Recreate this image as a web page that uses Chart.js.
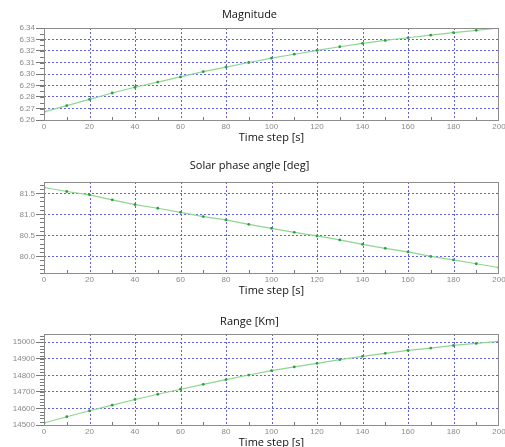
<!DOCTYPE html>
<html>
<head>
<meta charset="utf-8">
<script src="https://cdn.jsdelivr.net/npm/chart.js@4"></script>
<style>
  body { margin: 0; background: #fff; width: 505px; height: 447px; overflow: hidden; position: relative; }
  canvas { position: absolute; left: 0; }
</style>
</head>
<body>
<canvas id="magChart" width="505" height="146" style="top:0px"></canvas>
<canvas id="phaseChart" width="505" height="146" style="top:153px"></canvas>
<canvas id="rangeChart" width="505" height="146" style="top:305px"></canvas>
<script>
// time axis (s), markers every 10 s
const timeSteps = [0, 10, 20, 30, 40, 50, 60, 70, 80, 90, 100, 110, 120, 130, 140, 150, 160, 170, 180, 190, 200];
const xTicks = [0, 20, 40, 60, 80, 100, 120, 140, 160, 180, 200];

const magnitude = [6.267, 6.2725, 6.278, 6.2835, 6.2885, 6.293, 6.2975, 6.302, 6.306, 6.310, 6.3138,
  6.3172, 6.3205, 6.3237, 6.3267, 6.3292, 6.3315, 6.3338, 6.336, 6.338, 6.340];
const magTicks = [6.26, 6.27, 6.28, 6.29, 6.30, 6.31, 6.32, 6.33, 6.34];

const phaseAngle = [81.65, 81.555, 81.476, 81.357, 81.245, 81.157, 81.06, 80.96, 80.88, 80.776, 80.68,
  80.586, 80.5, 80.405, 80.3, 80.205, 80.12, 80.014, 79.93, 79.84, 79.75];
const phaseTicks = [80.0, 80.5, 81.0, 81.5];

const rangeKm = [14512, 14550, 14586, 14620, 14654, 14686, 14716, 14746, 14774, 14802, 14829,
  14851, 14873, 14895, 14915, 14933, 14951, 14965, 14981, 14993, 15005];
const rangeTicks = [14500, 14600, 14700, 14800, 14900, 15000];

const gridBlue = 'rgb(96, 96, 225)';

// vertical grid, frame box + minor ticks
const framePlugin = {
  id: 'frame',
  beforeDatasetsDraw(chart) {
    const { ctx, chartArea: a, scales: { x } } = chart;
    ctx.save();
    ctx.strokeStyle = gridBlue;
    ctx.lineWidth = 1;
    ctx.setLineDash([2, 2]);
    ctx.beginPath();
    xTicks.slice(1, -1).forEach(v => {
      const px = Math.round(x.getPixelForValue(v)) + 0.5;
      ctx.moveTo(px, a.top);
      ctx.lineTo(px, a.bottom);
    });
    ctx.stroke();
    ctx.restore();
  },
  afterDatasetsDraw(chart, args, opts) {
    const { ctx, chartArea: a, scales: { x, y } } = chart;
    ctx.save();
    ctx.strokeStyle = '#7a7a7a';
    ctx.lineWidth = 1;
    ctx.beginPath();
    // minor y ticks, outside left
    for (let v = y.min; v <= y.max + 1e-9; v += opts.yMinor) {
      const py = Math.round(y.getPixelForValue(v)) + 0.5;
      ctx.moveTo(a.left - 4, py);
      ctx.lineTo(a.left, py);
    }
    // minor x ticks, inside bottom
    for (let v = 10; v < 200; v += 20) {
      const px = Math.round(x.getPixelForValue(v)) + 0.5;
      ctx.moveTo(px, a.bottom);
      ctx.lineTo(px, a.bottom - 3);
    }
    ctx.stroke();
    ctx.strokeStyle = '#8c8c8c';
    ctx.strokeRect(Math.round(a.left) + 0.5, Math.round(a.top) + 0.5,
      Math.round(a.width) - 1, Math.round(a.height));
    ctx.restore();
  }
};

function edgeColor(ctx, col) {
  const s = ctx.scale;
  if (!ctx.tick) return col;
  const v = ctx.tick.value;
  if (Math.abs(v - s.min) < 1e-9 || Math.abs(v - s.max) < 1e-9) return 'rgba(255,255,255,0)';
  return col;
}

function makeChart(id, title, titlePad, values, yMin, yMax, yTicks, decimals, yMinor) {
  return new Chart(document.getElementById(id), {
    type: 'line',
    data: {
      datasets: [{
        data: timeSteps.map((t, i) => ({ x: t, y: values[i] })),
        borderColor: '#8fd68f',
        borderWidth: 1.2,
        pointRadius: 1.4,
        pointBackgroundColor: '#2f9e44',
        pointBorderWidth: 0,
        tension: 0
      }]
    },
    options: {
      responsive: false,
      animation: false,
      layout: { padding: { left: 0, right: 6, top: 0, bottom: 0 } },
      plugins: {
        legend: { display: false },
        tooltip: { enabled: false },
        title: {
          display: true,
          text: title,
          color: '#111',
          font: { family: 'Open Sans', size: 11, weight: 'normal' },
          padding: titlePad
        },
        frame: { yMinor: yMinor }
      },
      scales: {
        x: {
          type: 'linear',
          min: 0,
          max: 200,
          afterBuildTicks: s => { s.ticks = xTicks.map(v => ({ value: v })); },
          afterFit: s => { s.height = 26; s.paddingLeft = 0; s.paddingRight = 0; },
          ticks: { color: '#8a8a8a', font: { family: 'Liberation Sans', size: 8 }, padding: 2, maxRotation: 0, autoSkip: false },
          grid: { drawTicks: false, drawOnChartArea: false },
          border: { display: false },
          title: {
            display: true,
            text: 'Time step [s]',
            color: '#111',
            font: { family: 'Open Sans', size: 11 },
            padding: { top: 0, bottom: 2 }
          }
        },
        y: {
          type: 'linear',
          min: yMin,
          max: yMax,
          afterBuildTicks: s => { s.ticks = yTicks.map(v => ({ value: v })); },
          afterFit: s => { s.width = 44; },
          ticks: {
            color: '#8a8a8a',
            font: { family: 'Liberation Sans', size: 8 },
            padding: 1,
            autoSkip: false,
            callback: v => Number(v).toFixed(decimals)
          },
          grid: {
            drawTicks: true,
            tickLength: 8,
            tickColor: '#7a7a7a',
            color: c => edgeColor(c, gridBlue),
            lineWidth: 1
          },
          border: { display: false, dash: [2, 2] }
        }
      }
    },
    plugins: [framePlugin]
  });
}

makeChart('magChart', 'Magnitude', { top: 8.4, bottom: 6.4 }, magnitude, 6.26, 6.34, magTicks, 2, 0.005);
makeChart('phaseChart', 'Solar phase angle [deg]', { top: 6.4, bottom: 9.4 }, phaseAngle, 79.62, 81.78, phaseTicks, 1, 0.1);
makeChart('rangeChart', 'Range [Km]', { top: 10.1, bottom: 5.7 }, rangeKm, 14500, 15050, rangeTicks, 0, 20);
</script>
</body>
</html>
